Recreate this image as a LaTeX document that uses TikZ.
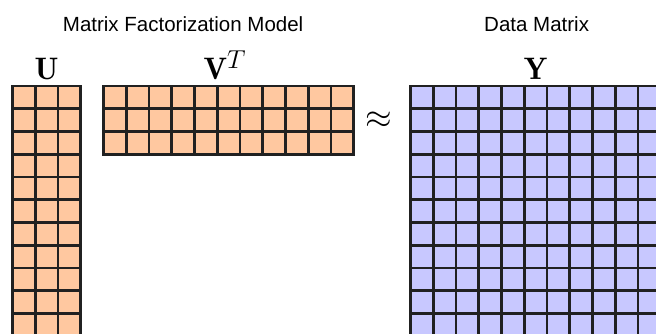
\documentclass[tikz,border=0pt]{standalone}
\usepackage{fontspec}
\newfontfamily\headfont{Liberation Sans}
\usetikzlibrary{positioning, calc}
\definecolor{factorfill}{RGB}{255,200,160}
\definecolor{datafill}{RGB}{200,200,255}
\tikzset{
	cell/.style={
		draw=black!87,
		line width=2.8pt,
		minimum size=22.75pt,
		inner sep=0pt,
		outer sep=0pt,
	},
	factorcell/.append style={
		cell,
		fill=factorfill,
	},
	datacell/.append style={
		cell,
		fill=datafill,
	},
	head/.append style={
		inner sep=0pt,
		font={\headfont\fontsize{20.5}{24}\selectfont}
	},
	matname/.append style={
		inner sep=0pt,
		font=\Huge,
		scale=1.25,
		transform shape
	},
}

\begin{document}
\begin{tikzpicture}[x=1pt, y=-1pt]
\useasboundingbox (0,0) rectangle (656,333);
\clip (0,0) rectangle (656,333);

\def\cs{22.75}

% factor U, tall and thin
\foreach \rr in {1,...,11} {
	\foreach \cc in {1,...,3} {
		\node(U\rr-\cc)[factorcell] at ({12.5+(\cc-0.5)*\cs}, {86+(\rr-0.5)*\cs}) {};
	};
};

% factor V^T, wide and flat
\foreach \rr in {1,...,3} {
	\foreach \cc in {1,...,11} {
		\node(V\rr-\cc)[factorcell] at ({103.5+(\cc-0.5)*\cs}, {86+(\rr-0.5)*\cs}) {};
	};
};

% data matrix Y
\foreach \rr in {1,...,11} {
	\foreach \cc in {1,...,11} {
		\node(Y\rr-\cc)[datacell] at ({410.5+(\cc-0.5)*\cs}, {86+(\rr-0.5)*\cs}) {};
	};
};

\node(Ulbl)[matname, above = 6pt of U1-2.north] {$\mathbf{U}$};
\node(Vlbl)[matname, above = 6pt of V1-6.north, xshift=-3pt] {$\mathbf{V}^T$};
\node(Ylbl)[matname, above = 6pt of Y1-6.north] {$\mathbf{Y}$};

\node(approx)[matname, scale=1.1]
	at ($(V2-11.east)!0.5!(Y2-1.west)+(-3,0)$) {$\approx$};

\node(mftitle)[head, anchor=base] at ($(U1-1.north west)!0.5!(V1-11.north east)+(0,-55)$) {Matrix Factorization Model};
\node(dmtitle)[head, anchor=base] at ($(Y1-6.north)+(1,-55)$) {Data Matrix};

\end{tikzpicture}
\end{document}
